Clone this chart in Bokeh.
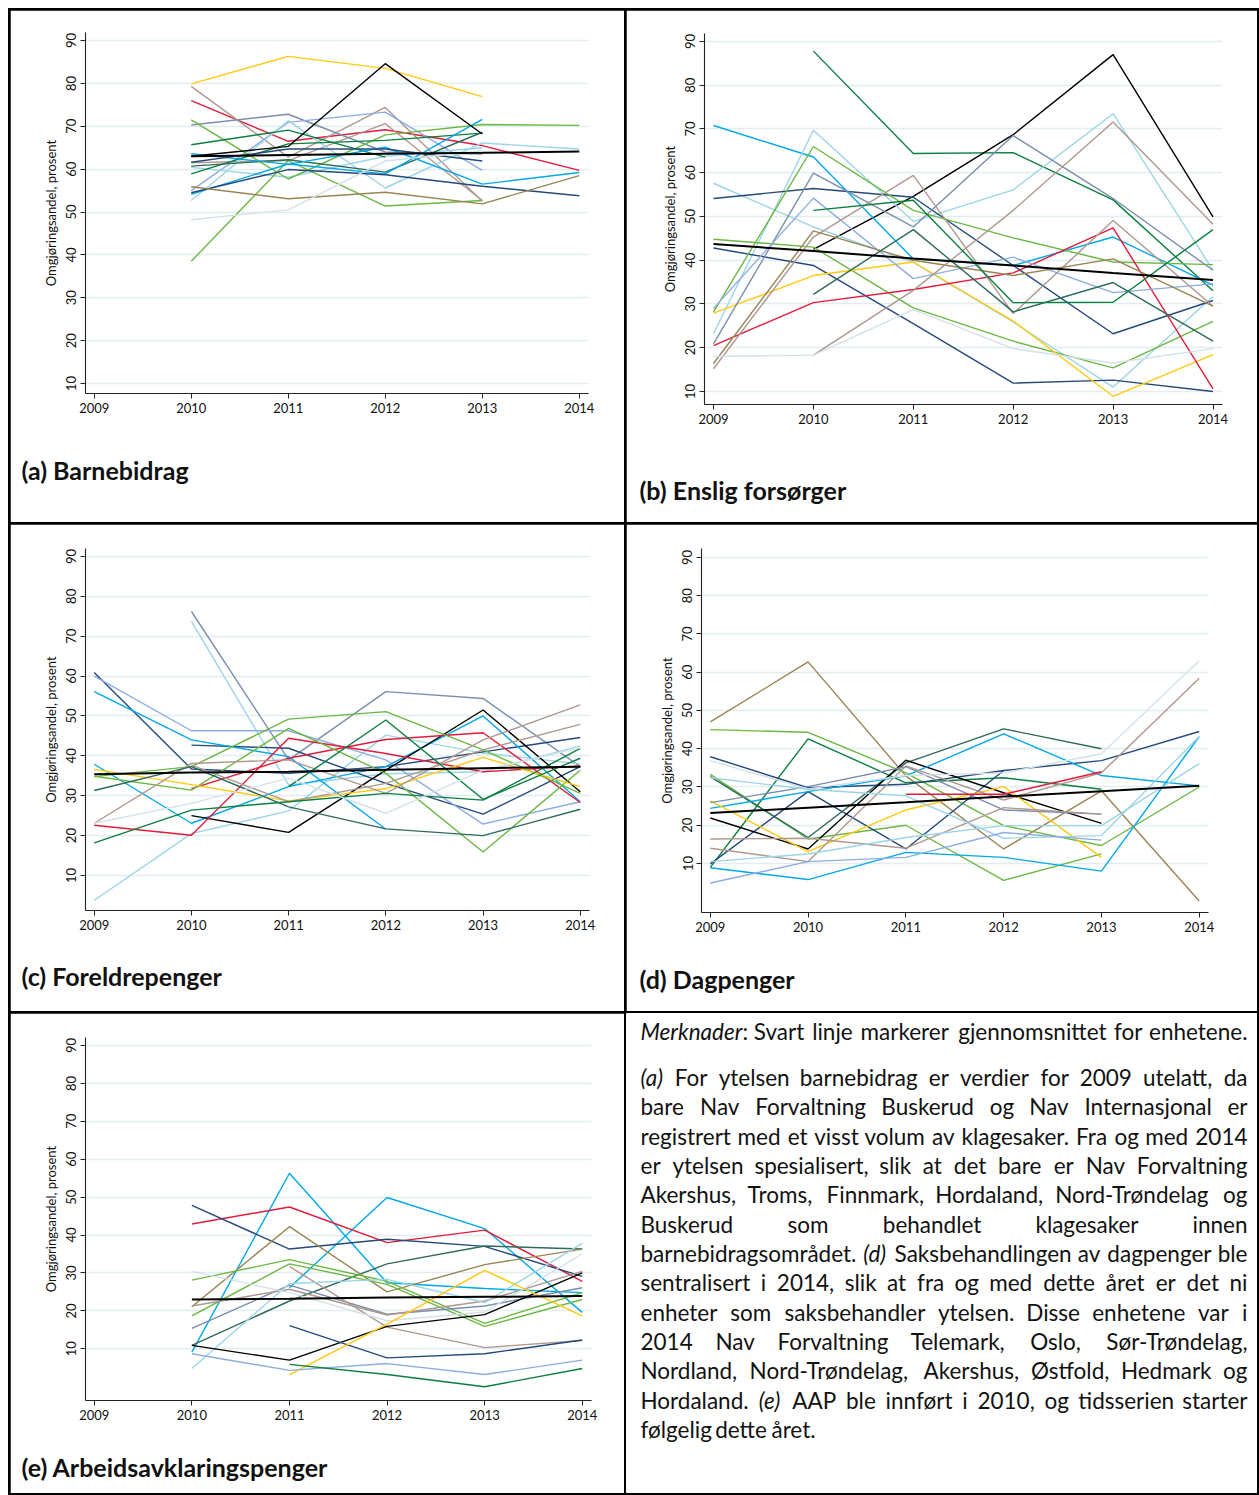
import math
from bokeh.plotting import figure
from bokeh.models import Range1d, FixedTicker, Title
from bokeh.layouts import row, column
from bokeh.embed import file_html
from bokeh.resources import INLINE
from bokeh.core.properties import value

# ---------------- data ----------------
YEARS = [2009, 2010, 2011, 2012, 2013, 2014]
Y_TICKS = [10, 20, 30, 40, 50, 60, 70, 80, 90]
Y_LABEL = "Omgjøringsandel, prosent"
N = None

A_TITLE = "(a) Barnebidrag"
A_UNITS = [
    [N, 79.9, 86.3, 83.5, 76.9, N],
    [N, 76.0, 66.5, 69.2, 65.5, 59.7],
    [N, 79.3, 62.8, 74.4, 52.5, N],
    [N, 61.5, 62.0, 70.6, 52.7, N],
    [N, 70.3, 72.8, 64.0, 63.5, N],
    [N, 55.0, 70.9, 73.3, 59.7, N],
    [N, 52.7, 71.3, 55.6, 66.1, 64.7],
    [N, 60.4, 58.1, 63.0, 65.0, N],
    [N, 71.5, 57.7, 68.0, 70.4, 70.2],
    [N, 38.5, 62.0, 51.4, 52.7, N],
    [N, 65.7, 69.1, 62.8, N, N],
    [N, 58.9, 65.9, 66.7, 68.4, N],
    [N, 60.7, 62.2, 59.3, 68.6, N],
    [N, 63.6, 61.1, 65.1, 56.5, 59.2],
    [N, 54.1, 61.2, 58.9, 71.6, N],
    [N, 54.5, 59.9, 58.7, 56.0, 53.8],
    [N, 61.6, 64.7, 64.7, 61.9, N],
    [N, 55.9, 53.1, 54.6, 51.9, 58.5],
    [N, 48.2, 50.5, 61.9, 64.3, N],
    [N, 63.0, 65.3, 84.6, 68.2, N],
]
A_MEAN = [N, 63.0, 63.3, 63.6, 63.8, 64.1]

B_TITLE = "(b) Enslig forsørger"
B_UNITS = [
    [N, 87.8, 64.4, 64.6, 53.8, 33.0],
    [N, 42.5, 54.6, 68.7, 87.0, 49.9],
    [70.8, 63.6, 40.3, 38.8, 45.3, 34.3],
    [23.2, 69.7, 48.9, 56.1, 73.5, 37.7],
    [57.6, 47.6, 39.5, 25.9, 11.0, 31.7],
    [54.1, 56.4, 54.4, 38.8, 23.2, 30.8],
    [42.8, 38.8, 25.5, 11.9, 12.6, 10.0],
    [28.2, 66.0, 51.4, 45.1, 39.6, 39.0],
    [44.8, 43.0, 29.1, 21.5, 15.4, 26.0],
    [27.9, 36.5, 39.6, 26.1, 8.9, 18.4],
    [20.5, 30.3, 33.3, 37.1, 47.4, 10.6],
    [20.9, 59.9, 47.6, 68.5, 54.1, 37.7],
    [29.0, 54.2, 35.8, 40.7, 32.6, 34.6],
    [15.2, 45.3, 59.4, 27.8, 49.1, 29.5],
    [16.4, 46.7, 40.0, 36.5, 40.3, 29.5],
    [N, 18.3, 33.1, 51.4, 71.6, 48.2],
    [18.0, 18.3, 28.7, 19.8, 16.5, 19.8],
    [N, 32.2, 47.0, 28.2, 34.9, 21.5],
    [N, 51.4, 53.7, 30.3, 30.4, 47.0],
]
B_MEAN = [43.7, 42.1, 40.4, 38.8, 37.1, 35.5]

C_TITLE = "(c) Foreldrepenger"
C_UNITS = [
    [N, 76.2, 39.0, 56.1, 54.4, 37.3],
    [N, 73.7, 32.7, 35.5, 36.0, 42.5],
    [3.8, 20.5, 26.2, 45.2, 40.7, 38.0],
    [60.9, 36.7, 35.6, 37.3, 41.0, 44.6],
    [N, 42.7, 41.9, 33.1, 25.4, 37.3],
    [60.0, 46.3, 46.3, 39.0, 22.9, 28.5],
    [56.1, 44.0, 39.8, 21.6, N, N],
    [37.9, 23.1, 32.3, 37.3, 50.0, 28.5],
    [N, 25.0, 20.8, 36.4, 51.5, 31.0],
    [22.6, 20.1, 44.4, 40.6, 36.0, 37.5],
    [N, 31.8, 39.4, 44.1, 45.8, 28.3],
    [34.8, 37.3, 49.2, 51.1, 41.5, 30.6],
    [34.9, 31.4, 46.9, 35.6, 15.9, 36.4],
    [36.6, 32.8, 28.7, 31.8, 39.6, 32.3],
    [23.1, 38.1, 39.0, 30.6, 44.0, 52.8],
    [N, 37.7, 28.5, 33.1, 41.5, 47.9],
    [31.3, 37.3, 27.2, 21.7, 20.0, 26.6],
    [18.2, 26.4, 28.5, 30.6, 28.9, 41.9],
    [N, N, 32.3, 49.0, 29.1, 39.4],
    [23.1, 28.1, 34.4, 25.6, 36.4, 42.0],
]
C_MEAN = [35.4, 35.8, 36.0, 36.5, 36.9, 37.3]

D_TITLE = "(d) Dagpenger"
D_UNITS = [
    [47.0, 62.7, 32.9, 13.8, 29.0, 0.2],
    [45.0, 44.3, 33.7, 19.9, 14.7, 30.0],
    [33.3, 16.4, 20.0, 5.6, 12.5, N],
    [32.7, 16.8, 36.3, 45.2, 40.0, N],
    [9.0, 42.6, 31.1, 32.4, 29.4, N],
    [37.9, 29.8, 30.7, 34.3, 36.9, 44.5],
    [9.9, 28.8, 13.8, 34.3, N, N],
    [21.9, 13.8, 37.0, 28.5, 20.5, N],
    [24.4, 28.8, 32.9, 43.9, 33.0, 30.3],
    [8.9, 5.8, 12.9, 11.6, 8.0, 43.2],
    [26.4, 13.1, 24.0, 30.1, 11.6, N],
    [25.9, 30.1, 35.3, 24.0, 22.9, N],
    [16.4, 16.6, 14.0, 24.6, 22.9, N],
    [14.0, 10.5, 35.5, 26.6, 33.7, 58.4],
    [N, N, 28.1, 28.1, 34.0, N],
    [36.9, 29.5, 33.0, 33.7, 38.7, 63.0],
    [32.4, 29.4, 27.7, 16.6, 17.3, 43.2],
    [10.5, 12.5, 16.8, 19.9, 19.9, 36.1],
    [4.9, 10.5, 11.6, 18.1, 16.1, N],
]
D_MEAN = [23.2, 24.6, 26.0, 27.5, 28.9, 30.3]

E_TITLE = "(e) Arbeidsavklaringspenger"
E_UNITS = [
    [N, 9.1, 56.3, 27.4, 25.9, 24.8],
    [N, N, 26.1, 49.9, 41.7, 19.6],
    [N, 42.9, 47.4, 38.0, 41.3, 27.8],
    [N, 47.8, 36.3, 38.9, 37.0, 29.1],
    [N, 10.9, 22.6, 32.4, 37.1, 36.3],
    [N, 21.1, 42.2, 25.0, 32.2, 36.3],
    [N, 28.1, 33.5, 27.8, 16.7, 24.8],
    [N, 18.7, 32.4, 27.0, 15.9, 23.0],
    [N, 15.4, 26.8, 19.1, 21.3, 26.1],
    [N, 21.3, 25.7, 18.9, 22.6, 30.4],
    [N, N, 31.7, 15.7, 10.3, 12.2],
    [N, 4.8, 27.2, 28.3, 22.2, 37.8],
    [N, 30.4, 24.8, 17.4, 19.7, 35.0],
    [N, 10.9, 7.0, 15.9, 19.0, 30.0],
    [N, N, 16.1, 7.6, 8.7, 12.3],
    [N, N, 3.2, 16.5, 30.7, 18.7],
    [N, 8.7, 4.3, 6.1, 3.2, 7.0],
    [N, N, 5.9, 3.2, 0.0, 4.8],
]
E_MEAN = [N, 23.0, 23.2, 23.5, 23.7, 23.9]

NOTE_HEAD = "*Merknader*: Svart linje markerer gjennomsnittet for enhetene."
NOTE_LINES = [
    "*(a)* For ytelsen barnebidrag er verdier for 2009 utelatt, da",
    "bare Nav Forvaltning Buskerud og Nav Internasjonal er",
    "registrert med et visst volum av klagesaker. Fra og med 2014",
    "er ytelsen spesialisert, slik at det bare er Nav Forvaltning",
    "Akershus, Troms, Finnmark, Hordaland, Nord-Trøndelag og",
    "Buskerud som behandlet klagesaker innen",
    "barnebidragsområdet. *(d)* Saksbehandlingen av dagpenger ble",
    "sentralisert i 2014, slik at fra og med dette året er det ni",
    "enheter som saksbehandler ytelsen. Disse enhetene var i",
    "2014 Nav Forvaltning Telemark, Oslo, Sør-Trøndelag,",
    "Nordland, Nord-Trøndelag, Akershus, Østfold, Hedmark og",
    "Hordaland. *(e)* AAP ble innført i 2010, og tidsserien starter",
    "følgelig dette året.",
]

# ---------------- styles ----------------
PAL = dict(yellow="#FFC90E", red="#E31A3C", navy="#24497A", sky="#00A8E8",
           lightblue="#9CD5E6", pale="#D3E1E8", periwinkle="#8CADE2",
           slate="#7B8FAD", lime="#6AB843", green="#0A7F3F", teal="#2E6B5B",
           olive="#9A8452", rosy="#AE9890", black="#000000")
A_COLORS = ["yellow", "red", "rosy", "rosy", "slate", "periwinkle", "lightblue",
            "lightblue", "lime", "lime", "green", "green", "teal", "sky", "sky",
            "navy", "navy", "olive", "pale", "black"]
B_COLORS = ["green", "black", "sky", "lightblue", "lightblue", "navy", "navy",
            "lime", "lime", "yellow", "red", "slate", "periwinkle", "rosy",
            "olive", "rosy", "pale", "teal", "green"]
C_COLORS = ["slate", "lightblue", "lightblue", "navy", "navy", "periwinkle",
            "sky", "sky", "black", "red", "red", "lime", "lime", "yellow",
            "rosy", "rosy", "teal", "green", "green", "pale"]
D_COLORS = ["olive", "lime", "lime", "teal", "green", "navy", "navy", "black",
            "sky", "sky", "yellow", "slate", "rosy", "rosy", "red", "pale",
            "lightblue", "lightblue", "periwinkle"]
E_COLORS = ["sky", "sky", "red", "navy", "teal", "olive", "lime", "lime",
            "slate", "rosy", "rosy", "lightblue", "pale", "black", "navy",
            "yellow", "periwinkle", "green"]

FONT = "Lato"
X0, X1 = 2008.91, 2014.095


def nanify(v):
    return [float("nan") if a is None else a for a in v]


def panel(units, colors, mean, title, w, h, mb, yr, tpos):
    p = figure(width=w, height=h, x_range=Range1d(X0, X1), y_range=Range1d(*yr),
               output_backend="svg", toolbar_location=None, tools="",
               min_border_left=mb[0], min_border_right=mb[1],
               min_border_top=mb[2], min_border_bottom=mb[3])
    p.background_fill_color = "#ffffff"
    p.border_fill_color = "#ffffff"
    p.outline_line_color = "#ffffff"
    p.xgrid.visible = False
    p.ygrid.grid_line_color = "#E3EDF0"
    p.ygrid.grid_line_width = 1.3
    p.xaxis.ticker = FixedTicker(ticks=YEARS)
    p.yaxis.ticker = FixedTicker(ticks=Y_TICKS)
    p.yaxis.major_label_orientation = "vertical"
    p.yaxis.axis_label = Y_LABEL
    for ax in (p.xaxis[0], p.yaxis[0]):
        ax.axis_line_color = "#222222"
        ax.axis_line_width = 1.1
        ax.major_tick_line_color = "#222222"
        ax.major_tick_out = 5
        ax.major_tick_in = 0
        ax.minor_tick_line_color = None
        ax.major_label_text_font = FONT
        ax.major_label_text_font_size = "13px"
        ax.major_label_text_color = "#111111"
        ax.major_label_standoff = 4
        ax.axis_label_text_font = FONT
        ax.axis_label_text_font_size = "13px"
        ax.axis_label_text_font_style = "normal"
        ax.axis_label_text_color = "#111111"
        ax.axis_label_standoff = 5
    # blank x-axis label used only as vertical spacing before the panel title
    p.xaxis.axis_label = " "
    p.xaxis.axis_label_text_font_size = "1px"
    p.xaxis.axis_label_standoff = tpos[1]
    for vals, c in zip(units, colors):
        p.line(YEARS, nanify(vals), line_color=PAL[c], line_width=1.4)
    p.line(YEARS, nanify(mean), line_color="#000000", line_width=2.0)
    p.add_layout(Title(text=title, align="left", offset=tpos[0], standoff=4,
                       text_font=FONT, text_font_style="bold",
                       text_font_size="25px", text_color="#111111"), "below")
    return p


pa = panel(A_UNITS, A_COLORS, A_MEAN, A_TITLE, 614, 512, (75, 36, 22, 129), (7.67, 91.87), (-64, 31))
pb = panel(B_UNITS, B_COLORS, B_MEAN, B_TITLE, 631, 512, (78, 35, 23, 118), (7.02, 91.83), (-65, 40))
pc = panel(C_UNITS, C_COLORS, C_MEAN, C_TITLE, 614, 487, (75, 35, 24, 101), (1.22, 92.0), (-64, 20))
pd = panel(D_UNITS, D_COLORS, D_MEAN, D_TITLE, 631, 487, (75, 49, 24, 99), (-2.81, 92.35), (-62, 21))
pe = panel(E_UNITS, E_COLORS, E_MEAN, E_TITLE, 614, 480, (75, 33, 24, 93), (-3.64, 92.1), (-64, 21))

# ---------------- notes panel (justified text) ----------------
CW = {' ': .20, '.': .22, ',': .22, ':': .22, '(': .30, ')': .30, '-': .34,
      'a': .50, 'b': .56, 'c': .46, 'd': .56, 'e': .52, 'f': .32, 'g': .50, 'h': .56,
      'i': .24, 'j': .24, 'k': .50, 'l': .24, 'm': .84, 'n': .56, 'o': .56, 'p': .56,
      'q': .56, 'r': .37, 's': .42, 't': .35, 'u': .56, 'v': .50, 'w': .77, 'x': .49,
      'y': .50, 'z': .45, 'ø': .56, 'å': .50, 'A': .68, 'B': .63, 'D': .74, 'F': .53,
      'H': .75, 'I': .28, 'M': .90, 'N': .75, 'O': .80, 'P': .59, 'S': .52, 'T': .59,
      'Ø': .80, 'E': .55}
FS = 22.5


def tw(s, italic=False):
    w = sum(CW.get(ch, .58 if ch.isdigit() else .55) for ch in s) * FS
    return w * (0.93 if italic else 1.0)


def parse_word(word):
    segs, ital, cur = [], False, ""
    for ch in word:
        if ch == "*":
            if cur:
                segs.append((cur, ital))
            cur, ital = "", not ital
        else:
            cur += ch
    if cur:
        segs.append((cur, ital))
    return segs


TH = 480
pt = figure(width=631, height=TH, x_range=Range1d(0, 631), y_range=Range1d(TH, 0),
            output_backend="svg", toolbar_location=None, tools="", x_axis_type=None,
            y_axis_type=None, min_border=0)
pt.outline_line_color = "#ffffff"
pt.grid.visible = False

LEFT, RIGHT = 14, 621
out = {(False, "left"): ([], [], []), (True, "left"): ([], [], []),
       (False, "right"): ([], [], []), (True, "right"): ([], [], [])}


def place_line(line, y, justify):
    words = [parse_word(w) for w in line.split(" ")]
    widths = [sum(tw(s, it) for s, it in w) for w in words]
    if justify and len(words) > 1:
        gap = max((RIGHT - LEFT - sum(widths)) / (len(words) - 1), 3.0)
    else:
        gap = tw(" ")
    x = LEFT
    for i, (w, wd) in enumerate(zip(words, widths)):
        if justify and i == len(words) - 1 and len(w) == 1 and len(words) > 1:
            s, it = w[0]
            o = out[(it, "right")]
            o[0].append(RIGHT); o[1].append(y); o[2].append(s)
        else:
            xx = x
            for s, it in w:
                o = out[(it, "left")]
                o[0].append(xx); o[1].append(y); o[2].append(s)
                xx += tw(s, it) + (1.5 if it else 0)
        x += wd + gap


place_line(NOTE_HEAD, 18, True)
for i, ln in enumerate(NOTE_LINES):
    place_line(ln, 64 + i * 29.33, i < len(NOTE_LINES) - 1)

for (it, al), (xs, ys, ts) in out.items():
    if xs:
        pt.text(x=xs, y=ys, text=ts, text_font=value(FONT), text_font_size="22.5px",
                text_font_style="italic" if it else "normal", text_align=al,
                text_baseline="middle", text_color="#111111")

layout = column(
    row(column(pa), column(pb), spacing=2),
    row(column(pc), column(pd), spacing=2),
    row(column(pe), column(pt), spacing=2),
    spacing=2,
    styles={"background-color": "#000000", "padding": "2px",
            "margin-left": "8px", "margin-top": "8px"},
)

open("out.html", "w").write(file_html(layout, INLINE))
